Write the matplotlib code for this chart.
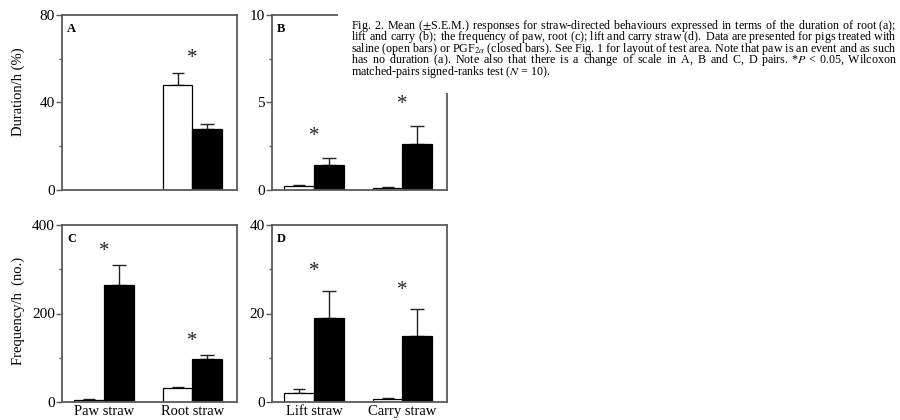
import matplotlib
matplotlib.use('Agg')
import matplotlib.pyplot as plt
from matplotlib.patches import Rectangle
from matplotlib.transforms import offset_copy
from matplotlib.font_manager import FontProperties
import numpy as np

plt.rcParams['font.family'] = ['Liberation Serif', 'DejaVu Serif']
plt.rcParams['mathtext.fontset'] = 'stix'

# ---------------- data ----------------
cats_bottom_left = ['Paw straw', 'Root straw']
cats_bottom_right = ['Lift straw', 'Carry straw']

A_open = [np.nan, 48.0]
A_open_err = [np.nan, 5.5]
A_closed = [np.nan, 28.0]
A_closed_err = [np.nan, 2.3]
A_star = [np.nan, 62.0]

B_open = [0.2, 0.1]
B_open_err = [0.1, 0.05]
B_closed = [1.4, 2.6]
B_closed_err = [0.45, 1.05]
B_star = [3.3, 5.1]

C_open = [4.0, 32.0]
C_open_err = [2.0, 2.0]
C_closed = [265.0, 97.0]
C_closed_err = [45.0, 10.0]
C_star = [350.0, 147.0]

D_open = [2.0, 0.7]
D_open_err = [1.0, 0.3]
D_closed = [19.0, 15.0]
D_closed_err = [6.0, 6.0]
D_star = [30.5, 26.2]

ylims = {'A': (0, 80), 'B': (0, 10), 'C': (0, 400), 'D': (0, 40)}
yticks = {'A': [0, 40, 80], 'B': [0, 5, 10], 'C': [0, 200, 400], 'D': [0, 20, 40]}
yminor = {'A': [20, 60], 'B': [2.5, 7.5], 'C': [100, 300], 'D': [10, 30]}

caption_lines = [
    "Fig. 2.  Mean ($\\pm$S.E.M.) responses for straw-directed behaviours expressed in terms of the duration of root (a);",
    "lift and carry (b); the frequency of paw, root (c); lift and carry straw (d)$\\mathdefault{.}$ Data are presented for pigs treated with",
    "saline (open bars) or PGF$_{2\\alpha}$ (closed bars). See Fig. 1 for layout of test area. Note that paw is an event and as such",
    "has no duration (a). Note also that there is a change of scale in A, B and C, D pairs. *$P$ < 0.05, Wilcoxon",
    "matched-pairs signed-ranks test ($N$ = 10).",
]

# ---------------- figure ----------------
W, H = 900, 420
fig = plt.figure(figsize=(9, 4.2), dpi=100)

def px_rect(l, t, r, b):
    return [l / W, 1 - b / H, (r - l) / W, (b - t) / H]

axes = {
    'A': fig.add_axes(px_rect(62, 15, 237, 190)),
    'B': fig.add_axes(px_rect(272, 15, 447, 190)),
    'C': fig.add_axes(px_rect(62, 225, 237, 402)),
    'D': fig.add_axes(px_rect(272, 225, 447, 402)),
}
data = {
    'A': (A_open, A_open_err, A_closed, A_closed_err, A_star),
    'B': (B_open, B_open_err, B_closed, B_closed_err, B_star),
    'C': (C_open, C_open_err, C_closed, C_closed_err, C_star),
    'D': (D_open, D_open_err, D_closed, D_closed_err, D_star),
}
centers = np.array([0.24, 0.745])
bw = 0.17
spine_col = '#5a5a5a'

for key, ax in axes.items():
    o, oe, c, ce, st = data[key]
    o = np.array(o); oe = np.array(oe); c = np.array(c); ce = np.array(ce); st = np.array(st)
    ok = ~np.isnan(o)
    xo = centers[ok] - bw / 2
    xc = centers[ok] + bw / 2
    ax.bar(xo, o[ok], width=bw, color='white', edgecolor='black', linewidth=0.9, zorder=2)
    ax.bar(xc, c[ok], width=bw, color='black', edgecolor='black', linewidth=0.9, zorder=2)
    ax.errorbar(xo, o[ok], yerr=[np.zeros(ok.sum()), oe[ok]], fmt='none',
                ecolor='#222222', elinewidth=1.0, capsize=4, capthick=1.0, zorder=1)
    ax.errorbar(xc, c[ok], yerr=[np.zeros(ok.sum()), ce[ok]], fmt='none',
                ecolor='#222222', elinewidth=1.0, capsize=5, capthick=1.0, zorder=1)
    star_tr = offset_copy(ax.transData, fig=fig, x=0, y=-3, units='points')
    for xi, s in zip(centers, st):
        if not np.isnan(s):
            ax.text(xi, s, '*', ha='center', va='center', fontsize=15, color='#222222',
                    transform=star_tr)
    ax.set_xlim(0, 1)
    ax.set_ylim(*ylims[key])
    ax.set_yticks(yticks[key])
    ax.set_yticks(yminor[key], minor=True)
    ax.tick_params(axis='y', which='major', direction='out', length=4, width=1,
                   color=spine_col, labelsize=11, pad=1)
    ax.tick_params(axis='y', which='minor', direction='out', length=2.5, width=1, color=spine_col)
    ax.tick_params(axis='x', length=0, labelsize=10.5, pad=2)
    for sp in ax.spines.values():
        sp.set_color(spine_col)
        sp.set_linewidth(1.3)
    ax.text(0.03, 0.955, key, transform=ax.transAxes, fontsize=9, fontweight='bold',
            ha='left', va='top')

axes['A'].set_xticks([])
axes['B'].set_xticks([])
axes['C'].set_xticks(centers)
axes['C'].set_xticklabels(cats_bottom_left)
axes['D'].set_xticks(centers)
axes['D'].set_xticklabels(cats_bottom_right)

fig.text(18 / W, 1 - 92 / H, 'Duration/h (%)', rotation=90, ha='center', va='center', fontsize=10.5)
fig.text(18 / W, 1 - 311 / H, 'Frequency/h  (no.)', rotation=90, ha='center', va='center', fontsize=10.5)

# caption box covering the top-right part
fig.patches.append(Rectangle((338 / W, 1 - 93 / H), 1 - 338 / W, 93 / H,
                             transform=fig.transFigure, facecolor='white',
                             edgecolor='none', zorder=10))

# ---- justified caption as one multi-line text (hair-space padding) ----
fig.canvas.draw()
renderer = fig.canvas.get_renderer()
x_left, x_right = 351, 897
target = x_right - x_left
HS = '\u200a'

def width_of(s, fs):
    t = fig.text(0, 0, s, fontsize=fs)
    w = t.get_window_extent(renderer).width
    t.remove()
    return w

def build(words, n):
    gaps = len(words) - 1
    s = words[0]
    for g in range(gaps):
        extra = n // gaps + (1 if g < n % gaps else 0)
        s += ' ' + HS * extra + words[g + 1]
    return s

word_lists = [[w for w in line.split(' ') if w != ''] for line in caption_lines]

fs = 8.9
while fs > 7.0:
    if all(width_of(' '.join(wl), fs) <= target for wl in word_lists[:-1]):
        break
    fs -= 0.05

justified = []
for i, words in enumerate(word_lists):
    if i == len(word_lists) - 1:
        justified.append(' '.join(words))
        continue
    lo, hi = 0, 1500
    while hi - lo > 1:
        mid = (lo + hi) // 2
        if width_of(build(words, mid), fs) <= target:
            lo = mid
        else:
            hi = mid
    justified.append(build(words, lo))

caption = '\n'.join(justified)

def span_for(ls):
    t = fig.text(0, 0.5, caption, fontsize=fs, linespacing=ls)
    try:
        _, info, _ = t._get_layout(renderer)
        ys = [row[3] for row in info]
        span = ys[0] - ys[-1]
    except Exception:
        span = t.get_window_extent(renderer).height - 12
    t.remove()
    return span

want = 4 * 11.6
lo_ls, hi_ls = 0.3, 2.0
for _ in range(30):
    mid = 0.5 * (lo_ls + hi_ls)
    if span_for(mid) < want:
        lo_ls = mid
    else:
        hi_ls = mid
ls = 0.5 * (lo_ls + hi_ls)

fig.text(x_left / W, 1 - 17.5 / H, caption, fontsize=fs, ha='left', va='top',
         linespacing=ls, multialignment='left', zorder=11)

fig.savefig('out.png', dpi=100)
